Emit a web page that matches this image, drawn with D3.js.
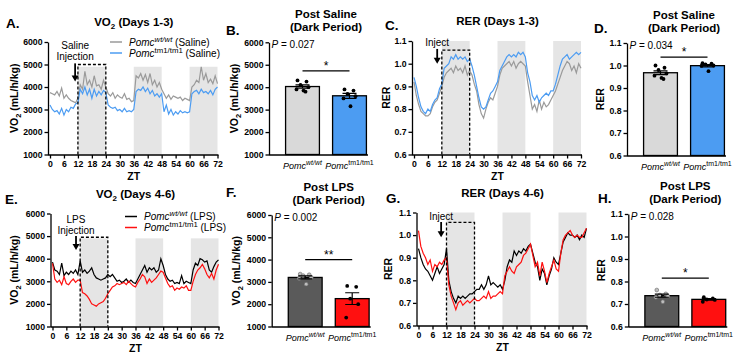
<!DOCTYPE html>
<meta charset="utf-8">
<style>
  body { margin: 0; background: #fff; }
  svg { font-family: "Liberation Sans", Arial, sans-serif; }
  .axis path, .axis line { stroke: #000; stroke-width: 1.3px; }
  .axis text { font-size: 8.7px; font-weight: bold; fill: #000; font-family: "Liberation Sans", Arial, sans-serif; }
  .title { font-size: 11.5px; font-weight: bold; text-anchor: middle; }
  .letter { font-size: 13.5px; font-weight: bold; }
  .ylab { font-size: 10.5px; font-weight: bold; text-anchor: middle; }
  .note { font-size: 10px; }
  .series { fill: none; stroke-width: 1.2px; }
</style>
<svg width="743" height="357"></svg>
<script src="https://d3js.org/d3.v7.min.js"></script>
<script>
  // ---- data ----
  var ztHours = d3.range(0, 73);
  var ztTicks = [0, 6, 12, 18, 24, 30, 36, 42, 48, 54, 60, 66, 72];
  var vo2Ticks = [1000, 2000, 3000, 4000, 5000, 6000];
  var rerTicks = [0.6, 0.7, 0.8, 0.9, 1.0, 1.1];
  var darkPeriods = [[12, 24], [36, 48], [60, 72]];
  var genotypes = ["wt/wt", "tm1/tm1"];

  var vo2SalineWt = [3750,3700,3650,3800,3600,3950,3500,3650,3500,3400,3350,3300,3500,4100,3900,4700,4100,4300,4000,4500,4050,4100,3900,4300,4000,
    3700,3600,3750,3500,3650,3550,3500,3700,3450,3500,3350,3400,4500,4400,4600,4300,4550,4200,4600,4100,4300,4000,4200,3900,
    3700,3500,3650,3450,3600,3550,3500,3550,3400,3500,3450,3400,4000,4100,4300,4200,4900,4300,4600,4200,4350,4150,4500,4150];
  var vo2SalineTm = [3200,3000,2900,2950,2800,3050,2750,3000,2900,3100,3050,3250,3300,3900,3700,4000,3650,3900,3500,3900,3600,3800,3650,3850,3750,
    3200,3100,3050,3100,2950,3000,2900,3050,2900,2950,2900,3000,3800,3900,3850,4000,3800,3950,3700,3850,3600,3700,3550,3700,
    2900,3200,2800,3000,2750,2900,2800,2950,2850,2900,2850,2900,3700,3800,3850,3700,3900,3750,3800,3700,3850,3650,3900,4000];

  var rerSalineWt = [0.92,0.86,0.82,0.79,0.78,0.77,0.77,0.78,0.81,0.83,0.84,0.87,0.90,0.94,0.96,0.97,0.98,0.96,0.99,0.97,0.98,0.96,0.99,0.95,0.97,
    0.95,0.91,0.88,0.82,0.78,0.76,0.80,0.83,0.85,0.84,0.87,0.90,0.95,0.98,0.99,1.00,1.01,0.99,1.01,0.98,1.00,1.01,1.00,0.99,
    0.92,0.86,0.80,0.82,0.79,0.84,0.80,0.83,0.81,0.82,0.84,0.86,0.88,0.91,0.94,0.97,0.99,1.01,1.00,0.97,0.99,0.96,1.00,0.98];
  var rerSalineTm = [0.94,0.90,0.85,0.81,0.79,0.78,0.80,0.79,0.82,0.84,0.85,0.89,0.91,0.98,0.99,1.00,1.03,1.02,1.04,1.02,1.03,1.02,1.03,1.01,1.02,
    0.99,0.95,0.90,0.85,0.81,0.80,0.81,0.84,0.87,0.88,0.90,0.92,0.97,0.99,1.01,1.03,1.04,1.03,1.04,1.03,1.05,1.04,1.05,1.03,
    0.96,0.92,0.86,0.84,0.86,0.83,0.85,0.86,0.87,0.86,0.88,0.88,0.91,0.95,0.99,1.02,1.03,1.04,1.02,1.03,1.04,1.05,1.04,1.05];

  var vo2LpsWt = [3850,3500,3450,3300,3800,3250,3400,3300,3450,3350,3500,3300,3900,3400,3500,3350,3450,3600,3300,3150,3100,3050,3100,3150,3300,
    3200,3300,3150,3000,3050,2950,3000,3100,2950,3050,2950,2900,3100,3300,3500,3700,3400,3600,3500,3600,3400,3500,4000,3700,
    3300,3100,3000,3050,2900,2950,2900,3250,2900,3000,2950,2900,3500,3800,3700,4000,3950,3850,3900,3500,3400,3650,3850,3950];
  var vo2LpsTm = [3800,3100,2950,3050,2850,3200,2900,2850,3000,3100,2950,3050,3050,2500,2450,2350,2200,2000,1950,1900,2000,2050,2100,2250,2450,
    2600,2750,2800,2900,2850,2900,2950,2850,3000,2900,2800,2750,2950,3100,3300,3200,2900,3100,2950,3050,3150,3300,3450,3400,
    3150,2900,2750,2800,2600,2700,2650,2750,2700,2800,2600,2600,3000,3300,3500,3600,3750,3550,3300,3150,3350,3100,3500,3750];

  var rerLpsWt = [0.94,0.90,0.87,0.85,0.84,0.82,0.80,0.83,0.86,0.83,0.85,0.87,0.94,0.80,0.75,0.72,0.70,0.73,0.72,0.73,0.72,0.73,0.74,0.74,0.75,
    0.76,0.76,0.78,0.76,0.78,0.82,0.78,0.79,0.78,0.77,0.78,0.76,0.80,0.86,0.89,0.88,0.93,0.91,0.93,0.92,0.94,0.93,0.95,0.96,
    0.92,0.88,0.86,0.80,0.85,0.83,0.78,0.82,0.85,0.90,0.88,0.87,0.92,0.97,0.99,1.01,1.00,1.00,0.99,1.00,0.98,1.00,0.99,1.03];
  var rerLpsTm = [1.02,0.95,0.92,0.90,0.87,0.89,0.84,0.87,0.86,0.88,0.87,0.89,0.90,0.78,0.73,0.70,0.67,0.70,0.71,0.69,0.70,0.71,0.70,0.71,0.72,
    0.71,0.71,0.72,0.73,0.72,0.75,0.72,0.73,0.73,0.74,0.75,0.74,0.82,0.84,0.86,0.84,0.83,0.86,0.87,0.88,0.91,0.92,0.94,0.96,
    0.91,0.86,0.88,0.82,0.88,0.84,0.79,0.83,0.86,0.89,0.85,0.84,0.92,0.98,1.00,1.01,1.02,1.00,0.99,1.00,0.99,0.99,1.01,1.03];

  // per-mouse dark period means
  var barVo2SalineWt = [4300, 4250, 4100, 4000, 3900, 3850, 3800];
  var barVo2SalineTm = [3900, 3850, 3700, 3600, 3500, 3150];
  var barRerSalineWt = [1.0, 0.99, 0.98, 0.965, 0.955, 0.945, 0.94];
  var barRerSalineTm = [1.01, 1.008, 1.005, 1.0, 0.998, 0.975];
  var barVo2LpsWt = [3350, 3320, 3280, 3200, 3150, 2900];
  var barVo2LpsTm = [2820, 2780, 2250, 2000, 1400];
  var barRerLpsWt = [0.762, 0.745, 0.74, 0.735, 0.73, 0.71];
  var barRerLpsTm = [0.73, 0.725, 0.72, 0.718, 0.71];

  var svg = d3.select("svg");

  function pomc(sel, sup, rest, size) {
    sel.append("tspan").text("Pomc").style("font-style", "italic");
    sel.append("tspan").text(sup).attr("dy", -size * 0.38).style("font-size", (size * 0.78) + "px")
      .style("font-style", sup == "wt/wt" ? "italic" : "normal");
    if (rest) sel.append("tspan").text(rest).attr("dy", size * 0.38);
  }

  function vo2Label(t) {
    t.append("tspan").text("VO");
    t.append("tspan").text("2").attr("dy", 2.5).style("font-size", "7.5px");
    t.append("tspan").text(" (mL/h/kg)").attr("dy", -2.5);
  }

  function letter(txt, x, y) {
    svg.append("text").attr("class", "letter").attr("x", x).attr("y", y).text(txt);
  }

  function linePanel(o) {
    var x = d3.scaleLinear().domain([0, 72]).range([o.x0, o.x1]);
    var y = d3.scaleLinear().domain([o.ticks[0], o.ticks[o.ticks.length - 1]]).range([o.y1, o.y0]);
    var g = svg.append("g");
    var bottom = y(o.ticks[0]);

    g.selectAll("rect.dark").data(darkPeriods).enter().append("rect")
      .attr("x", d => x(d[0])).attr("width", d => x(d[1]) - x(d[0]))
      .attr("y", y(o.shadeTop)).attr("height", bottom - y(o.shadeTop))
      .attr("fill", "#e5e5e5");

    var line = d3.line().x((d, i) => x(ztHours[i])).y(d => y(d));
    o.series.forEach(function (s) {
      g.append("path").datum(s.values).attr("class", "series").attr("stroke", s.color).attr("d", line);
    });

    g.append("path")
      .attr("d", "M" + x(12) + "," + bottom + "V" + y(o.boxTop) + "H" + x(24) + "V" + bottom)
      .attr("fill", "none").attr("stroke", "#000").attr("stroke-width", 1.3).attr("stroke-dasharray", "3,2");

    var xa = g.append("g").attr("class", "axis").attr("transform", "translate(0," + (bottom + 0.5) + ")")
      .call(d3.axisBottom(x).tickValues(ztTicks).tickSize(3.5).tickSizeOuter(0).tickPadding(2));
    xa.select(".domain").attr("d", "M" + (o.x0 - 2) + ",0H" + (o.x1 + 1));
    g.append("g").attr("class", "axis").attr("transform", "translate(" + (o.x0 - 2) + ",0)")
      .call(d3.axisLeft(y).tickValues(o.ticks).tickSize(3.5).tickSizeOuter(0).tickPadding(2).tickFormat(o.fmt));

    // injection arrow
    var ax = x(o.arrow.zt);
    g.append("line").attr("x1", ax).attr("x2", ax).attr("y1", y(o.arrow.from)).attr("y2", y(o.arrow.to) - 5)
      .attr("stroke", "#000").attr("stroke-width", 1.8);
    g.append("path").attr("d", "M" + (ax - 3.5) + "," + (y(o.arrow.to) - 6) + "L" + (ax + 3.5) + "," + (y(o.arrow.to) - 6) + "L" + ax + "," + y(o.arrow.to) + "Z");
    o.injectText.forEach(function (t, i) {
      g.append("text").attr("class", "note").attr("text-anchor", "middle")
        .attr("x", ax).attr("y", o.injectY + i * 11).text(t);
    });

    // legend
    if (o.legend) {
      o.series.forEach(function (s, i) {
        var ly = o.legend.y + i * 11;
        g.append("line").attr("x1", o.legend.x).attr("x2", o.legend.x + 12).attr("y1", ly).attr("y2", ly)
          .attr("stroke", s.color).attr("stroke-width", 1.5);
        var t = g.append("text").attr("class", "note").attr("x", o.legend.x + 19).attr("y", ly + 3.5);
        pomc(t, genotypes[i], " (" + o.legend.label + ")", 10);
      });
    }

    g.append("text").attr("class", "title").attr("x", (o.x0 + o.x1) / 2).attr("y", o.y0 - 16).call(o.titleFn);
    g.append("text").attr("class", "ylab").attr("x", (o.x0 + o.x1) / 2).attr("y", o.y1 + 25).text("ZT");
    var yl = g.append("text").attr("class", "ylab")
      .attr("transform", "translate(" + o.ylabX + "," + ((o.y0 + o.y1) / 2) + ") rotate(-90)");
    o.ylabFn(yl);
  }

  function barPanel(o) {
    var y = d3.scaleLinear().domain([o.ticks[0], o.ticks[o.ticks.length - 1]]).range([o.y1, o.y0]);
    var x = d3.scaleBand().domain(genotypes).range([o.ax + 10, o.ax + 104]).paddingInner(0.28).paddingOuter(0.14);
    var g = svg.append("g");
    var bottom = y(o.ticks[0]);
    var groups = genotypes.map((k, i) => {
      var v = o.values[i];
      var m = d3.mean(v);
      var sem = d3.deviation(v) / Math.sqrt(v.length);
      return { key: k, vals: v, mean: m, sem: sem, fill: o.fills[i], dot: o.dots[i] };
    });

    g.selectAll("rect.bar").data(groups).enter().append("rect")
      .attr("x", d => x(d.key)).attr("width", x.bandwidth())
      .attr("y", d => y(d.mean)).attr("height", d => bottom - y(d.mean))
      .attr("fill", d => d.fill).attr("stroke", "#000").attr("stroke-width", 1.3);

    groups.forEach(function (d) {
      var cx = x(d.key) + x.bandwidth() / 2;
      var offs = [-5, 4, -2, 6, -6, 1, 3];
      d.vals.forEach(function (v, i) {
        g.append("circle").attr("cx", cx + offs[i % offs.length]).attr("cy", y(v)).attr("r", 1.9)
          .attr("fill", d.dot).attr("stroke", d.dot == "#000" ? "none" : "#666").attr("stroke-width", 0.6);
      });
      g.append("path").attr("fill", "none").attr("stroke", "#000").attr("stroke-width", 1.2)
        .attr("d", "M" + cx + "," + y(d.mean - d.sem) + "V" + y(d.mean + d.sem) +
          "M" + (cx - 7) + "," + y(d.mean + d.sem) + "H" + (cx + 7) +
          "M" + (cx - 7) + "," + y(d.mean - d.sem) + "H" + (cx + 7));
    });

    // significance
    var c1 = x(genotypes[0]) + x.bandwidth() / 2, c2 = x(genotypes[1]) + x.bandwidth() / 2;
    g.append("line").attr("x1", c1).attr("x2", c2).attr("y1", y(o.sigAt)).attr("y2", y(o.sigAt))
      .attr("stroke", "#000").attr("stroke-width", 1.2);
    g.append("text").attr("x", (c1 + c2) / 2).attr("y", y(o.sigAt) - 1).attr("text-anchor", "middle")
      .style("font-size", "12px").text(o.stars);

    var p = g.append("text").attr("class", "note").attr("x", o.ax + 2.5).attr("y", o.y0 + 5.5);
    p.append("tspan").text("P").style("font-style", "italic");
    p.append("tspan").text(" = " + o.p);

    var xa = g.append("g").attr("class", "axis").attr("transform", "translate(0," + (bottom + 0.5) + ")")
      .call(d3.axisBottom(x).tickSize(0).tickFormat(""));
    xa.select(".domain").attr("d", "M" + o.ax + ",0H" + (o.ax + 99));
    g.append("g").attr("class", "axis").attr("transform", "translate(" + o.ax + ",0)")
      .call(d3.axisLeft(y).tickValues(o.ticks).tickSize(3.5).tickSizeOuter(0).tickPadding(2).tickFormat(o.fmt));

    groups.forEach(function (d) {
      var t = g.append("text").attr("class", "note").attr("text-anchor", "middle")
        .attr("x", x(d.key) + x.bandwidth() / 2).attr("y", bottom + 14).style("font-size", "9px");
      pomc(t, d.key, null, 9);
    });

    var cx = o.ax + 57;
    g.append("text").attr("class", "title").attr("x", cx).attr("y", o.y0 - 24).text(o.title);
    g.append("text").attr("class", "title").attr("x", cx).attr("y", o.y0 - 11).text("(Dark Period)");
    var yl = g.append("text").attr("class", "ylab")
      .attr("transform", "translate(" + o.ylabX + "," + ((o.y0 + o.y1) / 2) + ") rotate(-90)");
    o.ylabFn(yl);
  }

  var fmtRer = d3.format(".1f");
  var fmtVo2 = d3.format("d");
  function rerLabel(t) { t.text("RER"); }
  function vo2Title(days) {
    return function (t) {
      t.append("tspan").text("VO");
      t.append("tspan").text("2").attr("dy", 3).style("font-size", "8px");
      t.append("tspan").text(" (Days " + days + ")").attr("dy", -3);
    };
  }

  // ---- row 1: saline ----
  linePanel({
    x0: 50, x1: 217.5, y0: 42, y1: 154.5, ticks: vo2Ticks, fmt: fmtVo2,
    shadeTop: 4900, boxTop: 5000,
    series: [{ values: vo2SalineWt, color: "#9a9a9a" }, { values: vo2SalineTm, color: "#4c9cf2" }],
    arrow: { zt: 10.8, from: 5050, to: 4250 }, injectText: ["Saline", "Injection"], injectY: 49,
    legend: { x: 110, y: 42, label: "Saline" },
    titleFn: vo2Title("1-3"), ylabX: 18, ylabFn: vo2Label
  });
  letter("A.", 6, 28);

  linePanel({
    x0: 414, x1: 581, y0: 41, y1: 154.5, ticks: rerTicks, fmt: fmtRer,
    shadeTop: 1.1, boxTop: 1.06,
    series: [{ values: rerSalineWt, color: "#9a9a9a" }, { values: rerSalineTm, color: "#4c9cf2" }],
    arrow: { zt: 10, from: 1.065, to: 1.0 }, injectText: ["Inject"], injectY: 46,
    titleFn: function (t) { t.text("RER (Days 1-3)"); }, ylabX: 390, ylabFn: rerLabel
  });
  letter("C.", 385, 30);

  barPanel({
    ax: 269, y0: 42.3, y1: 154.5, ticks: vo2Ticks, fmt: fmtVo2,
    values: [barVo2SalineWt, barVo2SalineTm], fills: ["#d9d9d9", "#4c9cf2"], dots: ["#000", "#000"],
    sigAt: 4730, stars: "*", p: "0.027", title: "Post Saline", ylabX: 238, ylabFn: vo2Label
  });
  letter("B.", 226, 35);

  barPanel({
    ax: 627, y0: 43, y1: 155.5, ticks: rerTicks, fmt: fmtRer,
    values: [barRerSalineWt, barRerSalineTm], fills: ["#d9d9d9", "#4c9cf2"], dots: ["#000", "#000"],
    sigAt: 1.037, stars: "*", p: "0.034", title: "Post Saline", ylabX: 604, ylabFn: rerLabel
  });
  letter("D.", 594, 33);

  // ---- row 2: LPS ----
  linePanel({
    x0: 52.5, x1: 218.5, y0: 213.5, y1: 326.5, ticks: vo2Ticks, fmt: fmtVo2,
    shadeTop: 4900, boxTop: 4950,
    series: [{ values: vo2LpsWt, color: "#000" }, { values: vo2LpsTm, color: "#ff1010" }],
    arrow: { zt: 10.2, from: 5000, to: 4380 }, injectText: ["LPS", "Injection"], injectY: 223,
    legend: { x: 125, y: 216.5, label: "LPS" },
    titleFn: vo2Title("4-6"), ylabX: 18, ylabFn: vo2Label
  });
  letter("E.", 5, 204);

  linePanel({
    x0: 418.5, x1: 586.5, y0: 212.5, y1: 325.5, ticks: rerTicks, fmt: fmtRer,
    shadeTop: 1.1, boxTop: 1.056,
    series: [{ values: rerLpsWt, color: "#000" }, { values: rerLpsTm, color: "#ff1010" }],
    arrow: { zt: 9.7, from: 1.058, to: 0.99 }, injectText: ["Inject"], injectY: 220,
    titleFn: function (t) { t.text("RER (Days 4-6)"); }, ylabX: 392, ylabFn: rerLabel
  });
  letter("G.", 386, 203);

  barPanel({
    ax: 271.7, y0: 215, y1: 326.5, ticks: vo2Ticks, fmt: fmtVo2,
    values: [barVo2LpsWt, barVo2LpsTm], fills: ["#5a5a5a", "#ff1010"], dots: ["#bdbdbd", "#000"],
    sigAt: 4000, stars: "**", p: "0.002", title: "Post LPS", ylabX: 240, ylabFn: vo2Label
  });
  letter("F.", 226, 197);

  barPanel({
    ax: 628.3, y0: 214, y1: 326.5, ticks: rerTicks, fmt: fmtRer,
    values: [barRerLpsWt, barRerLpsTm], fills: ["#5a5a5a", "#ff1010"], dots: ["#bdbdbd", "#000"],
    sigAt: 0.815, stars: "*", p: "0.028", title: "Post LPS", ylabX: 605, ylabFn: rerLabel
  });
  letter("H.", 598, 203);
</script>
